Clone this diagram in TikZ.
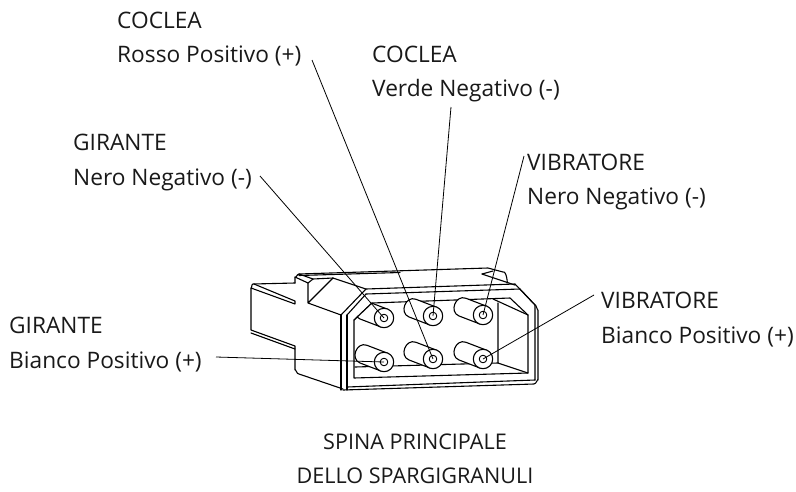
\documentclass[tikz,border=0pt]{standalone}
\usepackage{fontspec}
\setmainfont{Open Sans}
\tikzset{
  lbl/.style={inner sep=0pt,anchor=base west,font=\fontsize{22.7}{26}\selectfont,text=black!90},
  captext/.style={inner sep=0pt,anchor=base,font=\fontsize{21.6}{26}\selectfont,text=black!90},
  plug/.style={line width=1.1pt,line join=round,line cap=round},
  thin/.style={line width=.9pt,line join=round,line cap=round},
  leader/.style={line width=.8pt,black},
}
\newcommand{\pin}[3]{%
  \begin{scope}[shift={(#1,#2)}]
    \draw[plug,fill=white,rotate=-21] (0,-9.5) -- (-22,-9.5) .. controls (-33,-9.5) and (-33,9.5) .. (-22,9.5) -- (0,9.5);
    \draw[plug,fill=white] (0,0) circle[radius=9.7];
    \draw[thin] (0,0) circle[radius=3.8];
    \coordinate (#3) at (0,0);
  \end{scope}}
\begin{document}
\begin{tikzpicture}[x=1pt,y=-1pt]
\useasboundingbox (0,0) rectangle (796,491);
% outer body
\draw[plug] (295,283) -- (253,284) to[out=180,in=-60] (251,288) -- (251,330) -- (295,346) -- (295,370) to[out=80,in=200] (299,374) -- (343,389);
\draw[plug] (251,288) -- (295,304) -- (295,301) -- (254,284);
\draw[plug] (251,333) -- (295,349);
\draw[plug] (295,283) -- (295,277) to[out=-70,in=180] (299,274) -- (488,268) -- (503,272) to[out=20,in=-80] (507,282);
\draw[plug] (299,275.5) -- (400,272.5);
\draw[plug] (482,274) -- (515,285);
\draw[plug] (482,274) -- (493,271);
\draw[plug] (299,274) -- (313,279) -- (333,278);
\draw[plug] (295,277) -- (308,283) -- (313,279);
\draw[plug] (308,283) -- (308,303) -- (333,278) -- (366,289) -- (341,315) -- (308,303);
\draw[plug] (366,289) -- (515,284) -- (535,305) to[out=80,in=-90] (538,310) -- (538,380) to[out=90,in=-5] (534,384) -- (343,390);
\draw[plug] (366,294) -- (520,289) -- (535,305) -- (535,380);
\draw[plug] (341,315) -- (341,390);
\draw[plug] (347,315) -- (366,294);
\draw[plug] (347,315) -- (347,390);
\draw[plug] (347,387) -- (535,380);
% window
\draw[plug] (354,320) -- (372,303) -- (510,298) -- (528,315) -- (528,373) -- (354,378) -- cycle;
\draw[plug] (493,299) -- (528,315);
\draw[plug] (498,303) -- (498,363) -- (528,373);
\draw[plug] (355,367) -- (498,363);
% pins
\begin{scope}
  \clip (354,320) -- (372,303) -- (510,298) -- (528,315) -- (528,373) -- (354,378) -- cycle;
  \pin{384}{318}{p1}
\end{scope}
\draw[plug] (354,320) -- (372,303);
\pin{384}{362}{p2}
\pin{433}{316}{p3}
\pin{433}{359}{p4}
\pin{483}{315}{p5}
\pin{483}{359}{p6}
% labels
\node[lbl] (a1) at (117,28) {COCLEA};
\node[lbl] (a2) at (117,62) {Rosso Positivo (+)};
\node[lbl] (b1) at (372,62) {COCLEA};
\node[lbl] (b2) at (372,96) {Verde Negativo (-)};
\node[lbl] (c1) at (73,150) {GIRANTE};
\node[lbl] (c2) at (73,185) {Nero Negativo (-)};
\node[lbl] (d1) at (527,170) {VIBRATORE};
\node[lbl] (d2) at (527,204) {Nero Negativo (-)};
\node[lbl] (e1) at (9,333) {GIRANTE};
\node[lbl] (e2) at (9,368) {Bianco Positivo (+)};
\node[lbl] (f1) at (601,308) {VIBRATORE};
\node[lbl] (f2) at (601,343) {Bianco Positivo (+)};
\node[captext] (g1) at (415,449) {SPINA PRINCIPALE};
\node[captext] (g2) at (415,483) {DELLO SPARGIGRANULI};
% leaders
\coordinate (la) at (312,60);
\coordinate (lb) at (451,107);
\coordinate (lc) at (260,176);
\coordinate (ld) at (524,156);
\coordinate (le) at (216,357);
\coordinate (lf) at (594,295);
\draw[leader] (la) -- (p4);
\draw[leader] (lb) -- (p3);
\draw[leader] (lc) -- (p1);
\draw[leader] (ld) -- (p5);
\draw[leader] (le) -- (p2);
\draw[leader] (lf) -- (p6);
\end{tikzpicture}
\end{document}
